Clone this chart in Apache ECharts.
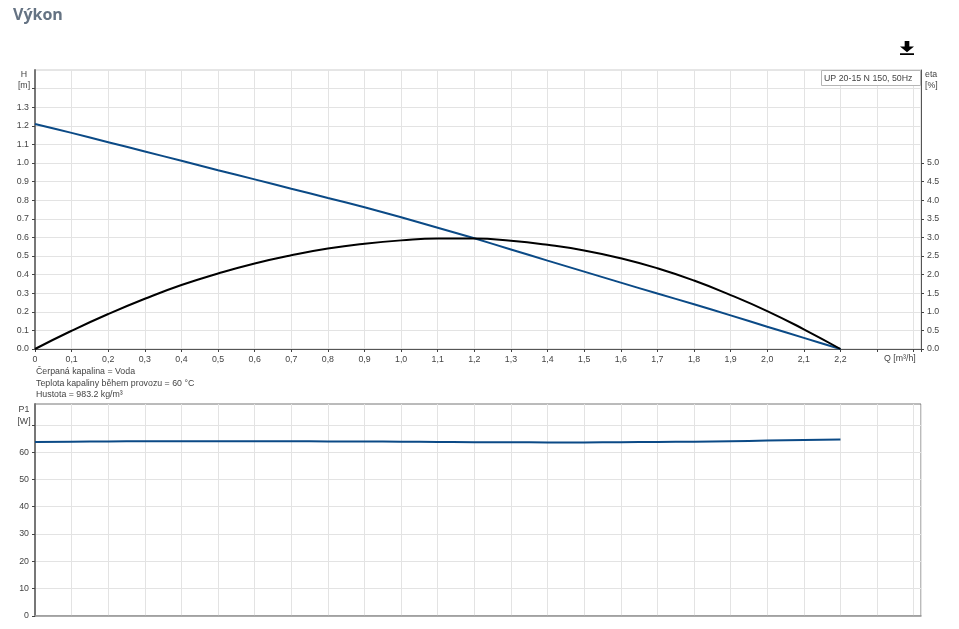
<!DOCTYPE html>
<html>
<head>
<meta charset="utf-8">
<title>Výkon</title>
<script src="https://cdn.jsdelivr.net/npm/echarts@6/dist/echarts.min.js"></script>
<style>
html, body { margin: 0; padding: 0; background: #fff; }
#chart { width: 959px; height: 629px; }
</style>
</head>
<body>
<div id="chart"></div>
<script>
var qValues = [0, 0.1, 0.2, 0.3, 0.4, 0.5, 0.6, 0.7, 0.8, 0.9, 1.0, 1.1, 1.2, 1.3, 1.4, 1.5, 1.6, 1.7, 1.8, 1.9, 2.0, 2.1, 2.2];
var hValues = [1.21, 1.162, 1.112, 1.062, 1.012, 0.961, 0.912, 0.862, 0.812, 0.762, 0.708, 0.652, 0.595, 0.535, 0.475, 0.416, 0.357, 0.298, 0.241, 0.181, 0.12, 0.06, 0];
var etaValues = [0, 0.49, 0.94, 1.35, 1.72, 2.03, 2.30, 2.52, 2.70, 2.83, 2.92, 2.97, 2.97, 2.91, 2.80, 2.65, 2.44, 2.17, 1.84, 1.45, 1.02, 0.53, 0];
var p1Values = [63.7, 63.8, 63.9, 63.95, 64.0, 64.0, 64.0, 63.95, 63.9, 63.85, 63.8, 63.7, 63.6, 63.6, 63.55, 63.55, 63.6, 63.7, 63.8, 64.0, 64.2, 64.4, 64.6];

var hTicks = [0, 0.1, 0.2, 0.3, 0.4, 0.5, 0.6, 0.7, 0.8, 0.9, 1.0, 1.1, 1.2, 1.3, 1.4];
var hLabels = [0, 0.1, 0.2, 0.3, 0.4, 0.5, 0.6, 0.7, 0.8, 0.9, 1.0, 1.1, 1.2, 1.3];
var etaTicks = [0, 0.5, 1.0, 1.5, 2.0, 2.5, 3.0, 3.5, 4.0, 4.5, 5.0];
var p1Ticks = [0, 10, 20, 30, 40, 50, 60, 70];
var p1Labels = [0, 10, 20, 30, 40, 50, 60];
var qLabels = qValues;

var notes = ['Čerpaná kapalina = Voda', 'Teplota kapaliny během provozu = 60 °C', 'Hustota = 983.2 kg/m³'];

function pairs(ys) {
    return qValues.map(function (q, i) { return [q, ys[i]]; });
}

var fontName = '"Liberation Sans", Arial, sans-serif';
var textColor = '#444';
var gridLine = { show: true, lineStyle: { color: '#e3e3e3', width: 1 } };
var smallText = { fontFamily: fontName, fontSize: 8.8, color: textColor, fontWeight: 'normal' };

var chart = echarts.init(document.getElementById('chart'));
chart.setOption({
    animation: false,
    backgroundColor: '#fff',
    textStyle: { fontFamily: fontName },
    title: [
        { text: 'Výkon', left: 13, top: 7, padding: 0, textStyle: { fontFamily: '"Open Sans", sans-serif', fontSize: 16, fontWeight: 'bold', color: '#657383' } },
        { text: 'H\n[m]', left: 24, top: 69, padding: 0, textAlign: 'center', z: 10, textStyle: { fontFamily: fontName, fontSize: 8.8, color: textColor, fontWeight: 'normal', lineHeight: 11 } },
        { text: 'eta\n[%]', left: 925, top: 69, padding: 0, textStyle: { fontFamily: fontName, fontSize: 8.8, color: textColor, fontWeight: 'normal', lineHeight: 11 } },
        { text: 'Q [m³/h]', left: 884, top: 354, padding: 0, textStyle: smallText },
        { text: 'P1\n[W]', left: 24, top: 404, padding: 0, textAlign: 'center', textStyle: { fontFamily: fontName, fontSize: 8.8, color: textColor, fontWeight: 'normal', lineHeight: 12 } },
        { text: notes.join('\n'), left: 36, top: 366, padding: 0, textStyle: { fontFamily: fontName, fontSize: 8.8, color: textColor, fontWeight: 'normal', lineHeight: 11.5 } },
        { text: 'UP 20-15 N 150, 50Hz', left: 821, top: 70, padding: [4, 8, 3, 3], backgroundColor: '#fff', borderColor: '#b5b5b5', borderWidth: 1, z: 10, textStyle: smallText }
    ],
    toolbox: {
        left: 885,
        top: 26,
        itemSize: 14,
        showTitle: false,
        iconStyle: { color: '#000', borderWidth: 0 },
        feature: {
            saveAsImage: { icon: 'path://M5 0H10V6H15L7.5 12L0 6H5ZM0 13H15V15H0Z' }
        }
    },
    grid: [
        { left: 35, right: 38, top: 70, height: 279, show: true, borderColor: '#cccccc', borderWidth: 1 },
        { left: 35, right: 38, top: 404, height: 212, show: true, borderColor: '#777', borderWidth: 1 }
    ],
    xAxis: [
        {
            gridIndex: 0, type: 'value', min: 0, max: 2.42, interval: 0.1,
            axisLine: { show: true, lineStyle: { color: '#555', width: 1 } },
            axisTick: { show: true, length: 3, lineStyle: { color: '#444' } },
            axisLabel: Object.assign({}, smallText, {
                margin: 6,
                customValues: qLabels,
                formatter: function (v) { return v === 0 ? '0' : v.toFixed(1).replace('.', ','); }
            }),
            splitLine: gridLine
        },
        {
            gridIndex: 1, type: 'value', min: 0, max: 2.42, interval: 0.1,
            axisLine: { show: true, lineStyle: { color: '#999', width: 1.5 } },
            axisTick: { show: false },
            axisLabel: { show: false },
            splitLine: gridLine
        }
    ],
    yAxis: [
        {
            gridIndex: 0, type: 'value', min: 0, max: 1.5, interval: 0.1,
            axisLine: { show: true, lineStyle: { color: '#777', width: 2 } },
            axisTick: { show: true, length: 3, lineStyle: { color: '#444' }, customValues: hTicks },
            axisLabel: Object.assign({}, smallText, {
                margin: 6,
                customValues: hLabels,
                formatter: function (v) { return v.toFixed(1); }
            }),
            splitLine: gridLine
        },
        {
            gridIndex: 0, type: 'value', position: 'right', min: 0, max: 7.5, interval: 0.5,
            axisLine: { show: true, lineStyle: { color: '#555', width: 1 } },
            axisTick: { show: true, length: 3, lineStyle: { color: '#444' }, customValues: etaTicks },
            axisLabel: Object.assign({}, smallText, {
                margin: 6,
                customValues: etaTicks,
                formatter: function (v) { return v.toFixed(1); }
            }),
            splitLine: { show: false }
        },
        {
            gridIndex: 1, type: 'value', min: 0, max: 77.6, interval: 10,
            axisLine: { show: true, lineStyle: { color: '#777', width: 2 } },
            axisTick: { show: true, length: 3, lineStyle: { color: '#444' }, customValues: p1Ticks },
            axisLabel: Object.assign({}, smallText, {
                margin: 6,
                customValues: p1Labels
            }),
            splitLine: gridLine
        }
    ],
    series: [
        {
            name: 'H', type: 'line', xAxisIndex: 0, yAxisIndex: 0, data: pairs(hValues),
            showSymbol: false, smooth: 0.3,
            lineStyle: { color: '#0b4a86', width: 2 }, itemStyle: { color: '#0b4a86' }
        },
        {
            name: 'eta', type: 'line', xAxisIndex: 0, yAxisIndex: 1, data: pairs(etaValues),
            showSymbol: false, smooth: 0.5, z: 3,
            lineStyle: { color: '#000', width: 2 }, itemStyle: { color: '#000' }
        },
        {
            name: 'P1', type: 'line', xAxisIndex: 1, yAxisIndex: 2, data: pairs(p1Values),
            showSymbol: false, smooth: 0.5,
            lineStyle: { color: '#0b4a86', width: 2 }, itemStyle: { color: '#0b4a86' }
        }
    ]
});
</script>
</body>
</html>
